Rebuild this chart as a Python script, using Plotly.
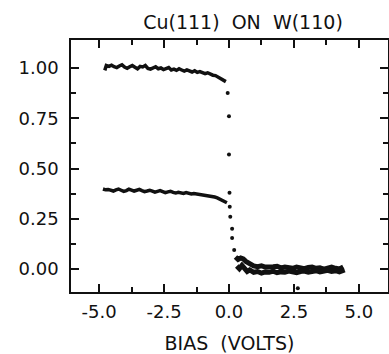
import plotly.graph_objects as go

# ---- data ----
upper_hi_x = [-4.78, -4.72, -4.62, -4.52, -4.42, -4.32, -4.22, -4.12, -4.02, -3.92, -3.82,
              -3.72, -3.62, -3.52, -3.42, -3.32, -3.22, -3.12, -3.02, -2.92, -2.82, -2.72,
              -2.62, -2.52, -2.42, -2.32, -2.22, -2.12, -2.02, -1.92, -1.82, -1.72, -1.62,
              -1.52, -1.42, -1.32, -1.22, -1.12, -1.02, -0.92, -0.82, -0.72, -0.62, -0.52,
              -0.42, -0.32, -0.22, -0.12]
upper_hi_y = [0.988, 1.012, 1.008, 1.014, 1.006, 1.002, 1.010, 1.016, 1.004, 0.998, 1.006,
              1.012, 1.004, 0.996, 1.008, 1.005, 1.012, 0.998, 0.994, 1.002, 1.006, 0.996,
              1.0, 0.992, 0.998, 1.002, 0.99, 0.994, 0.988, 0.996, 0.99, 0.984, 0.99,
              0.986, 0.98, 0.986, 0.978, 0.982, 0.976, 0.972, 0.976, 0.968, 0.964, 0.962,
              0.955, 0.948, 0.94, 0.932]

lower_hi_x = [-4.85, -4.75, -4.65, -4.55, -4.45, -4.35, -4.25, -4.15, -4.05, -3.95, -3.85,
              -3.75, -3.65, -3.55, -3.45, -3.35, -3.25, -3.15, -3.05, -2.95, -2.85, -2.75,
              -2.65, -2.55, -2.45, -2.35, -2.25, -2.15, -2.05, -1.95, -1.85, -1.75, -1.65,
              -1.55, -1.45, -1.35, -1.25, -1.15, -1.05, -0.95, -0.85, -0.75, -0.65, -0.55,
              -0.45, -0.35, -0.25, -0.15, -0.08]
lower_hi_y = [0.398, 0.394, 0.396, 0.392, 0.388, 0.394, 0.398, 0.392, 0.386, 0.39, 0.397,
              0.393, 0.388, 0.392, 0.396, 0.39, 0.385, 0.388, 0.392, 0.387, 0.382, 0.386,
              0.39, 0.385, 0.38, 0.384, 0.387, 0.381, 0.378, 0.382, 0.379, 0.376, 0.38,
              0.377, 0.373, 0.376, 0.374, 0.37, 0.372, 0.368, 0.366, 0.364, 0.362, 0.358,
              0.354, 0.348, 0.342, 0.336, 0.33]

trans_x = [-0.05, 0.0, 0.0, 0.02, 0.03, 0.05, 0.12, 0.12, 0.2, 2.65]
trans_y = [0.875, 0.76, 0.57, 0.38, 0.31, 0.26, 0.2, 0.155, 0.095, -0.095]

upper_lo_x = [0.25, 0.35, 0.45, 0.55, 0.65, 0.75, 0.85, 0.95, 1.1, 1.25, 1.4, 1.55, 1.7,
              1.85, 2.0, 2.15, 2.3, 2.45, 2.6, 2.75, 2.9, 3.05, 3.2, 3.35, 3.5, 3.65,
              3.8, 3.95, 4.1, 4.25, 4.4]
upper_lo_y = [0.06, 0.048, 0.055, 0.05, 0.038, 0.03, 0.022, 0.016, 0.012, 0.016, 0.01,
              0.008, 0.012, 0.014, 0.006, 0.01, 0.008, 0.004, 0.01, 0.006, 0.002, 0.008,
              0.01, 0.004, 0.006, 0.0, 0.008, 0.01, 0.004, 0.0, 0.01]

lower_lo_x = [0.3, 0.4, 0.5, 0.6, 0.7, 0.8, 0.95, 1.1, 1.25, 1.4, 1.55, 1.7, 1.85, 2.0,
              2.15, 2.3, 2.45, 2.6, 2.75, 2.9, 3.05, 3.2, 3.35, 3.5, 3.65, 3.8, 3.95,
              4.1, 4.25, 4.45]
lower_lo_y = [0.015, 0.002, 0.018, 0.004, -0.012, -0.004, -0.016, -0.012, -0.02, -0.014,
              -0.016, -0.01, -0.018, -0.014, -0.016, -0.01, -0.014, -0.018, -0.012, -0.01,
              -0.016, -0.012, -0.008, -0.014, -0.012, -0.006, -0.012, -0.008, -0.014, -0.004]

x_tickvals = [-5.0, -2.5, 0.0, 2.5, 5.0]
x_ticktext = ["-5.0", "-2.5", "0.0", "2.5", "5.0"]
x_minor = [-3.75, -1.25, 1.25, 3.75]
y_tickvals = [0.0, 0.25, 0.5, 0.75, 1.0]
y_ticktext = ["0.00", "0.25", "0.50", "0.75", "1.00"]
y_minor = [0.125, 0.375, 0.625, 0.875]

FONT = "DejaVu Sans"
INK = "#111111"

fig = go.Figure()
for xs, ys, w in [(upper_hi_x, upper_hi_y, 3.5), (lower_hi_x, lower_hi_y, 3.5),
                  (upper_lo_x, upper_lo_y, 5), (lower_lo_x, lower_lo_y, 5)]:
    fig.add_trace(go.Scatter(x=xs, y=ys, mode="lines",
                             line=dict(color=INK, width=w), showlegend=False,
                             hoverinfo="skip"))
fig.add_trace(go.Scatter(x=trans_x, y=trans_y, mode="markers",
                         marker=dict(color=INK, size=4), showlegend=False))

axis_common = dict(showline=True, linecolor=INK, linewidth=1.6, mirror="allticks",
                   ticks="inside", tickcolor=INK, tickwidth=1.5, ticklen=8,
                   showgrid=False, zeroline=False, automargin=False,
                   tickfont=dict(family=FONT, size=18, color=INK))

fig.update_xaxes(range=[-6.08, 6.12], tickmode="array", tickvals=x_tickvals,
                 ticktext=x_ticktext, ticklabelstandoff=3,
                 minor=dict(tickvals=x_minor, ticks="inside", ticklen=5,
                            tickcolor=INK, tickwidth=1.5, showgrid=False),
                 title=dict(text="BIAS\u00a0 (VOLTS)", standoff=15,
                            font=dict(family=FONT, size=19, color=INK)),
                 **axis_common)
fig.update_yaxes(range=[-0.114, 1.139], tickmode="array", tickvals=y_tickvals,
                 ticktext=y_ticktext, ticklabelstandoff=7,
                 minor=dict(tickvals=y_minor, ticks="inside", ticklen=5,
                            tickcolor=INK, tickwidth=1.5, showgrid=False),
                 **axis_common)

fig.update_layout(
    width=389, height=354,
    margin=dict(l=71, r=1, t=40, b=62, autoexpand=False),
    paper_bgcolor="white", plot_bgcolor="white",
    title=dict(text="Cu(111)\u00a0 ON\u00a0 W(110)", x=243 / 389, xanchor="center",
               y=1 - 22 / 354, yanchor="middle",
               font=dict(family=FONT, size=19, color=INK)),
)

fig.write_html("out.html")
